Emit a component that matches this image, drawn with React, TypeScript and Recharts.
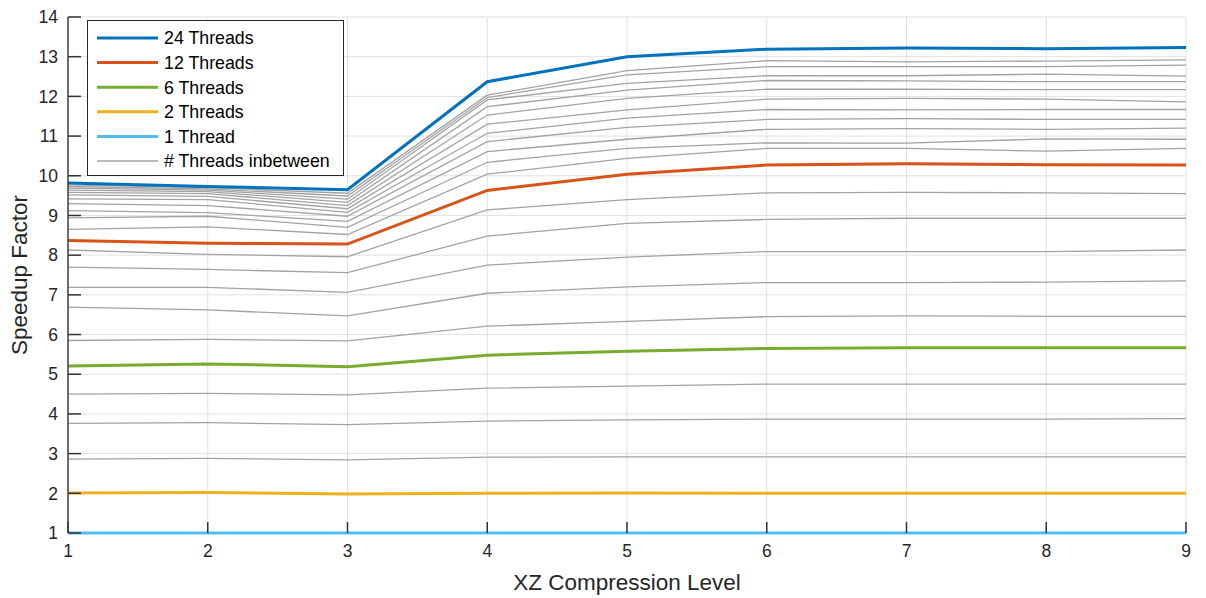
import React from 'react';
import { LineChart, Line, XAxis, YAxis, CartesianGrid } from 'recharts';

// XZ compression level on the x axis
const levels = [1, 2, 3, 4, 5, 6, 7, 8, 9];
const yTicks = [1, 2, 3, 4, 5, 6, 7, 8, 9, 10, 11, 12, 13, 14];

// Measured speedup factor per thread count, one value per compression level
const threads1 = [1, 1, 1, 1, 1, 1, 1, 1, 1];
const threads2 = [2.01, 2.02, 1.98, 2.0, 2.01, 2.0, 2.0, 2.0, 2.0];
const threads3 = [2.86, 2.88, 2.84, 2.91, 2.92, 2.92, 2.92, 2.92, 2.92];
const threads4 = [3.76, 3.78, 3.73, 3.82, 3.85, 3.87, 3.87, 3.87, 3.88];
const threads5 = [4.5, 4.52, 4.48, 4.65, 4.7, 4.75, 4.75, 4.75, 4.75];
const threads6 = [5.21, 5.26, 5.19, 5.48, 5.58, 5.65, 5.67, 5.67, 5.67];
const threads7 = [5.85, 5.88, 5.84, 6.21, 6.33, 6.45, 6.47, 6.46, 6.46];
const threads8 = [6.69, 6.62, 6.47, 7.04, 7.2, 7.31, 7.31, 7.32, 7.35];
const threads9 = [7.19, 7.19, 7.06, 7.75, 7.95, 8.09, 8.09, 8.09, 8.13];
const threads10 = [7.7, 7.64, 7.56, 8.48, 8.8, 8.9, 8.93, 8.93, 8.93];
const threads11 = [8.13, 8.02, 7.96, 9.14, 9.4, 9.57, 9.58, 9.57, 9.55];
const threads12 = [8.37, 8.3, 8.28, 9.63, 10.04, 10.27, 10.3, 10.28, 10.27];
const threads13 = [8.65, 8.71, 8.52, 10.04, 10.44, 10.69, 10.69, 10.62, 10.69];
const threads14 = [8.94, 8.98, 8.7, 10.34, 10.69, 10.83, 10.82, 10.93, 10.92];
const threads15 = [9.12, 9.07, 8.85, 10.61, 10.92, 11.17, 11.19, 11.17, 11.2];
const threads16 = [9.3, 9.25, 8.98, 10.86, 11.22, 11.42, 11.44, 11.42, 11.42];
const threads17 = [9.42, 9.4, 9.08, 11.07, 11.45, 11.67, 11.66, 11.67, 11.67];
const threads18 = [9.52, 9.48, 9.17, 11.3, 11.66, 11.93, 11.95, 11.93, 11.86];
const threads19 = [9.58, 9.55, 9.25, 11.53, 11.95, 12.18, 12.18, 12.17, 12.17];
const threads20 = [9.64, 9.6, 9.33, 11.74, 12.16, 12.4, 12.39, 12.37, 12.37];
const threads21 = [9.69, 9.64, 9.41, 11.91, 12.33, 12.52, 12.52, 12.56, 12.51];
const threads22 = [9.73, 9.67, 9.49, 11.97, 12.54, 12.75, 12.75, 12.75, 12.79];
const threads23 = [9.77, 9.7, 9.56, 12.03, 12.65, 12.9, 12.87, 12.89, 12.92];
const threads24 = [9.82, 9.73, 9.65, 12.37, 13.0, 13.19, 13.22, 13.2, 13.23];

const speedups = [
  threads1, threads2, threads3, threads4, threads5, threads6, threads7, threads8,
  threads9, threads10, threads11, threads12, threads13, threads14, threads15, threads16,
  threads17, threads18, threads19, threads20, threads21, threads22, threads23, threads24,
];

// Thread counts drawn in colour and listed in the legend
const highlighted = [
  { threads: 24, label: '24 Threads', color: '#0072BD' },
  { threads: 12, label: '12 Threads', color: '#D95319' },
  { threads: 6, label: '6 Threads', color: '#77AC30' },
  { threads: 2, label: '2 Threads', color: '#EDB120' },
  { threads: 1, label: '1 Thread', color: '#4DBEEE' },
];
const otherLabel = '# Threads inbetween';
const grayColor = '#a3a3a3';

const rows = levels.map((level, i) => {
  const row: Record<string, number> = { level };
  speedups.forEach((series, k) => {
    row[`t${k + 1}`] = series[i];
  });
  return row;
});

const highlightedSet = new Set(highlighted.map((h) => h.threads));
const grayThreads = speedups.map((_, k) => k + 1).filter((t) => !highlightedSet.has(t));

const FONT = '"Liberation Sans", Arial, Helvetica, sans-serif';
const TEXT = '#262626';
const TICK_FONT = 17.5;
const TITLE_FONT = 22.5;

// Tick marks point into the plot area, as in MATLAB-style axes
const X_TICK_GAP = 12;
const X_TICK_LEN = 11;
const Y_TICK_GAP = 10;
const Y_TICK_LEN = 13;
const TICK_COLOR = '#333333';

const XTick = (props: any) => {
  const { x, y, payload } = props;
  return (
    <g>
      <line x1={x} x2={x} y1={y - X_TICK_GAP} y2={y - X_TICK_GAP - X_TICK_LEN} stroke={TICK_COLOR} strokeWidth={1.5} />
      <text x={x} y={y} dy="0.71em" textAnchor="middle" fontFamily={FONT} fontSize={TICK_FONT} fill={TEXT}>
        {payload.value}
      </text>
    </g>
  );
};

const YTick = (props: any) => {
  const { x, y, payload } = props;
  return (
    <g>
      <line x1={x + Y_TICK_GAP} x2={x + Y_TICK_GAP + Y_TICK_LEN} y1={y} y2={y} stroke={TICK_COLOR} strokeWidth={1.5} />
      <text x={x} y={y} dy="0.355em" textAnchor="end" fontFamily={FONT} fontSize={TICK_FONT} fill={TEXT}>
        {payload.value}
      </text>
    </g>
  );
};

const LegendBox = () => {
  const entries = [
    ...highlighted.map((h) => ({ label: h.label, color: h.color, width: 3 })),
    { label: otherLabel, color: grayColor, width: 1.3 },
  ];
  return (
    <svg width={258} height={157} style={{ display: 'block' }}>
      <rect x={0.5} y={0.5} width={256} height={155} fill="#fff" stroke={TEXT} strokeWidth={1} />
      {entries.map((e, i) => {
        const cy = 18 + i * 24.6;
        return (
          <g key={e.label}>
            <line x1={10} x2={71} y1={cy} y2={cy} stroke={e.color} strokeWidth={e.width} />
            <text x={77} y={cy} dy="0.36em" fontFamily={FONT} fontSize={17.8} fill="#000">
              {e.label}
            </text>
          </g>
        );
      })}
    </svg>
  );
};

export default function App() {
  return (
    <div style={{ position: 'absolute', left: 0, top: 0, width: 1206, height: 598, background: '#fff' }}>
      <LineChart
        width={1206}
        height={598}
        data={rows}
        margin={{ top: 17, right: 20, bottom: 0, left: 0 }}
      >
        <CartesianGrid stroke="#e1e1e1" strokeWidth={1} />
        <XAxis
          dataKey="level"
          type="number"
          domain={[1, 9]}
          ticks={levels}
          height={65}
          axisLine={false}
          tickLine={false}
          tickSize={0}
          tickMargin={X_TICK_GAP}
          tick={<XTick />}
          interval={0}
          label={{
            content: () => (
              <text x={627} y={590} textAnchor="middle" fontFamily={FONT} fontSize={TITLE_FONT} fill={TEXT}>
                XZ Compression Level
              </text>
            ),
          }}
        />
        <YAxis
          type="number"
          domain={[1, 14]}
          ticks={yTicks}
          width={68}
          stroke={TEXT}
          strokeWidth={1.3}
          tickLine={false}
          tickSize={0}
          tickMargin={Y_TICK_GAP}
          tick={<YTick />}
          interval={0}
          label={{
            content: () => (
              <text
                x={27}
                y={275}
                transform="rotate(-90 27 275)"
                textAnchor="middle"
                fontFamily={FONT}
                fontSize={TITLE_FONT}
                fill={TEXT}
              >
                Speedup Factor
              </text>
            ),
          }}
        />
        {grayThreads.map((t) => (
          <Line
            key={t}
            dataKey={`t${t}`}
            stroke={grayColor}
            strokeWidth={1.3}
            dot={false}
            isAnimationActive={false}
          />
        ))}
        {[...highlighted].reverse().map((h) => (
          <Line
            key={h.threads}
            dataKey={`t${h.threads}`}
            stroke={h.color}
            strokeWidth={3}
            dot={false}
            isAnimationActive={false}
          />
        ))}
      </LineChart>
      <div style={{ position: 'absolute', left: 87, top: 20 }}>
        <LegendBox />
      </div>
    </div>
  );
}
